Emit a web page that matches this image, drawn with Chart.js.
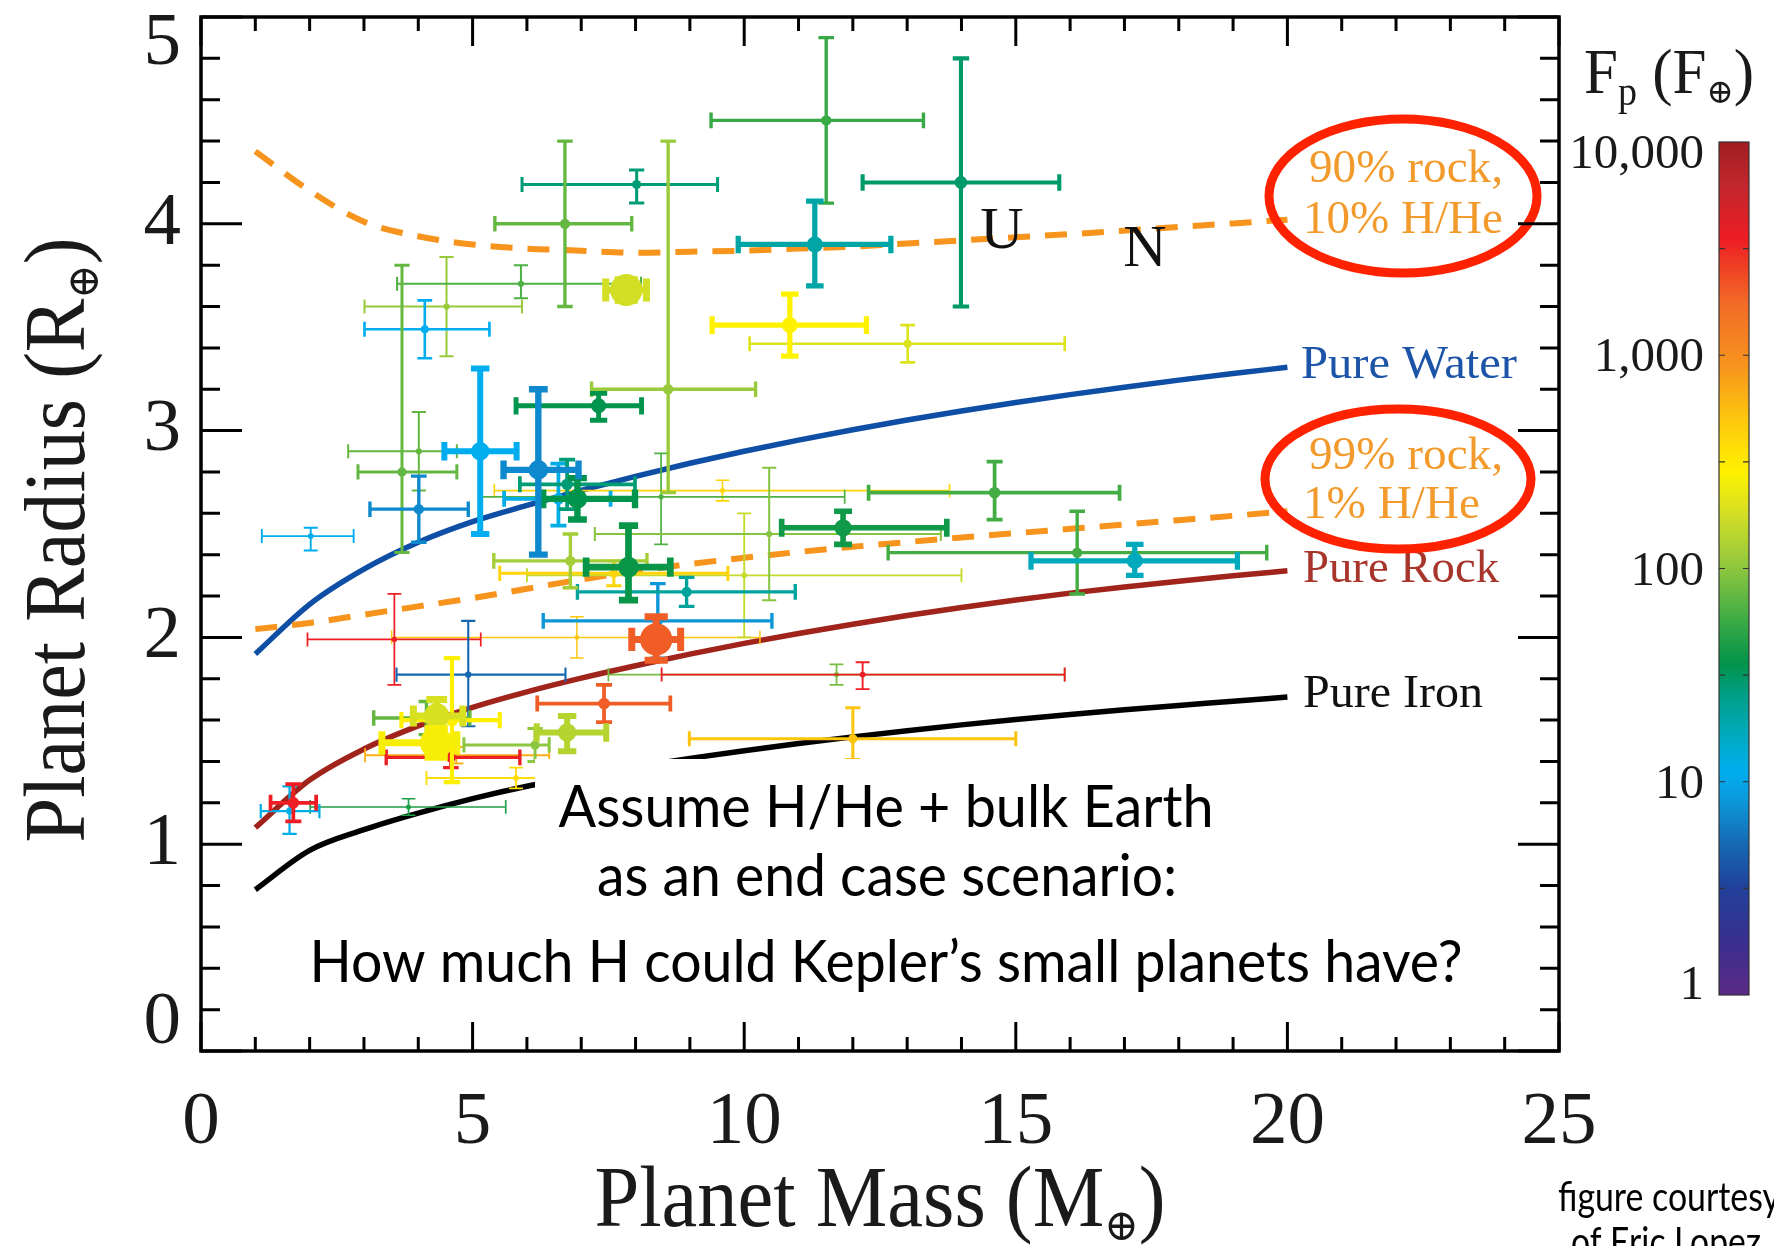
<!DOCTYPE html>
<html>
<head>
<meta charset="utf-8">
<title>Planet Mass vs Radius</title>
<script src="https://cdn.jsdelivr.net/npm/chart.js@4.4.1/dist/chart.umd.min.js"></script>
<style>
  html, body { margin: 0; padding: 0; background: #ffffff; overflow: hidden; }
  #wrap { width: 1774px; height: 1246px; position: relative; }
  canvas { display: block; }
</style>
</head>
<body>
<div id="wrap"><canvas id="chart" width="1774" height="1246"></canvas></div>
<script>
// ---------------- Planets: mass (M_earth), radius (R_earth), 1-sigma bounds ----------------
const planetMass   = [8.02, 6.70, 7.83, 5.89, 3.70, 4.52, 4.12, 8.60, 7.32, 5.14, 4.01, 6.21, 6.74, 6.58, 6.93, 2.02, 4.01, 8.47, 9.60, 14.61, 11.82, 10.46, 10.00, 11.51, 13.99, 11.30, 10.84, 13.01, 6.80, 7.87, 7.60, 8.94, 8.41, 8.38, 6.92, 3.56, 4.92, 12.18, 11.70, 7.42, 4.34, 4.15, 4.62, 4.33, 4.70, 4.60, 6.15, 6.74, 5.80, 1.70, 1.63, 3.82, 12.00, 17.19, 16.13];
const massLow      = [5.91, 5.41, 7.45, 3.61, 2.89, 3.01, 3.01, 7.19, 5.80, 4.48, 2.71, 5.57, 5.87, 5.58, 6.30, 1.12, 3.11, 5.15, 5.40, 12.29, 10.69, 7.25, 6.00, 9.39, 12.18, 9.89, 9.41, 10.10, 5.39, 7.09, 5.50, 6.93, 6.30, 7.93, 3.51, 1.96, 3.60, 8.48, 7.50, 6.19, 3.91, 3.18, 3.69, 3.33, 3.02, 3.41, 4.84, 6.18, 4.15, 1.28, 1.10, 2.01, 8.99, 15.28, 12.65];
const massHigh     = [9.51, 7.93, 8.20, 8.10, 4.71, 5.91, 5.31, 10.21, 8.11, 5.81, 4.71, 6.95, 7.99, 7.54, 7.99, 2.81, 4.92, 11.85, 13.78, 16.91, 13.73, 13.62, 14.00, 13.30, 15.80, 12.70, 12.25, 15.90, 8.21, 8.64, 9.70, 10.94, 10.51, 8.83, 10.29, 5.15, 6.71, 15.90, 15.90, 8.64, 4.82, 4.95, 5.50, 4.71, 6.41, 5.87, 6.41, 7.46, 7.45, 2.12, 2.18, 5.61, 15.00, 19.08, 19.62];
const planetRadius = [4.19, 4.00, 3.68, 3.71, 2.80, 3.60, 3.49, 3.20, 3.12, 2.90, 2.90, 2.81, 2.74, 2.67, 2.67, 2.49, 2.62, 2.68, 2.71, 2.70, 2.53, 2.50, 2.30, 4.50, 4.20, 3.90, 3.51, 3.42, 2.37, 2.34, 2.31, 2.22, 2.08, 1.99, 2.00, 1.99, 1.82, 1.82, 1.82, 1.68, 1.62, 1.61, 1.60, 1.49, 1.43, 1.42, 1.48, 1.54, 1.32, 1.20, 1.16, 1.18, 1.51, 2.37, 2.41];
const radiusLow    = [4.10, 3.60, 3.63, 3.64, 2.41, 3.36, 3.35, 2.70, 3.05, 2.50, 2.71, 2.40, 2.62, 2.54, 2.57, 2.42, 2.46, 2.45, 2.66, 2.57, 2.45, 2.18, 2.00, 4.10, 3.60, 3.70, 3.36, 3.33, 2.24, 2.18, 2.25, 2.15, 1.90, 1.89, 1.90, 1.77, 1.57, 1.75, 1.77, 1.59, 1.54, 1.53, 1.30, 1.42, 1.39, 1.37, 1.40, 1.45, 1.27, 1.11, 1.05, 1.14, 1.41, 2.30, 2.21];
const radiusHigh   = [4.26, 4.40, 3.73, 3.80, 3.80, 3.84, 3.63, 4.40, 3.18, 3.30, 3.09, 3.20, 2.86, 2.84, 2.77, 2.53, 2.78, 2.89, 2.76, 2.85, 2.61, 2.82, 2.60, 4.90, 4.80, 4.11, 3.66, 3.51, 2.50, 2.54, 2.37, 2.29, 2.26, 2.10, 2.10, 2.21, 2.08, 1.88, 1.87, 1.77, 1.70, 1.69, 1.90, 1.56, 1.47, 1.47, 1.56, 1.62, 1.37, 1.29, 1.28, 1.22, 1.66, 2.45, 2.61];
// Incident flux F_p in units of Earth's insolation
const incidentFlux = [28, 75, 180, 65, 75, 110, 11, 110, 35, 11, 75, 7, 28, 12, 35, 11, 7, 65, 420, 60, 40, 95, 160, 55, 30, 20, 280, 200, 120, 38, 420, 22, 8, 2000, 500, 3500, 5, 3500, 85, 2000, 190, 75, 290, 260, 650, 3500, 100, 140, 380, 3500, 12, 45, 520, 17, 60];
// Significance of the mass measurement (sets symbol weight)
const massSignificance = [4.0, 4.5, 14, 2.7, 4.0, 2.7, 3.5, 4.5, 6.5, 8.0, 2.7, 8.5, 5.0, 5.0, 8.5, 2.5, 4.5, 2.3, 2.2, 5.0, 7.5, 2.7, 2.5, 4.5, 5.5, 7.0, 7.0, 3.5, 4.5, 9.0, 4.0, 4.5, 4.5, 14, 2.0, 2.3, 2.8, 2.5, 2.3, 5.0, 11, 4.5, 5.5, 14, 2.5, 4.5, 4.0, 8.0, 2.5, 5.0, 3.0, 2.2, 4.0, 7.0, 4.5];

// ---------------- Composition models: radius vs mass ----------------
const modelMass  = [1, 2, 3, 4, 5, 6, 7, 8, 9, 10, 11, 12, 13, 14, 15, 16, 17, 18, 19, 20];
const rRock90HHe = [4.35, 4.16, 4.01, 3.94, 3.90, 3.88, 3.87, 3.86, 3.865, 3.87, 3.88, 3.89, 3.905, 3.92, 3.935, 3.95, 3.967, 3.985, 4.002, 4.02];
const rRock99HHe = [2.04, 2.07, 2.11, 2.15, 2.19, 2.235, 2.28, 2.32, 2.355, 2.385, 2.413, 2.438, 2.461, 2.483, 2.504, 2.525, 2.546, 2.567, 2.588, 2.61];
const rPureWater = [1.920, 2.160, 2.330, 2.460, 2.560, 2.638, 2.711, 2.779, 2.842, 2.900, 2.954, 3.004, 3.051, 3.095, 3.136, 3.174, 3.210, 3.244, 3.276, 3.306];
const rPureRock  = [1.080, 1.310, 1.460, 1.572, 1.662, 1.737, 1.803, 1.863, 1.919, 1.971, 2.019, 2.064, 2.106, 2.145, 2.181, 2.214, 2.244, 2.272, 2.298, 2.322];
const rPureIron  = [0.780, 0.970, 1.070, 1.150, 1.220, 1.280, 1.330, 1.375, 1.415, 1.452, 1.487, 1.519, 1.549, 1.577, 1.603, 1.627, 1.650, 1.671, 1.691, 1.712];

// ---------------- Axis / colour bar ticks ----------------
const massTicks   = [0, 5, 10, 15, 20, 25];
const radiusTicks = [0, 1, 2, 3, 4, 5];
const fluxTicks      = [1, 10, 100, 1000, 10000];
const fluxTickLabels = ['1', '10', '100', '1,000', '10,000'];

// ---------------- Styling ----------------
const SERIF = "'Liberation Serif', 'DejaVu Serif', serif";
const SANS  = "Lato, 'Open Sans', 'DejaVu Sans', sans-serif";
const INK   = '#1a1a1a';

// Rainbow colour map on log10(flux), 0..4
const fluxStops = [
  [0.00, '#5b2a86'], [0.25, '#3a2f8f'], [0.50, '#21409a'], [0.70, '#1667b2'],
  [0.90, '#0d96d8'], [1.05, '#00aeef'], [1.25, '#00a9b5'], [1.40, '#00a08a'],
  [1.55, '#00934a'], [1.75, '#3aaa45'], [2.00, '#8dc63f'], [2.25, '#d2de26'],
  [2.45, '#fff200'], [2.70, '#fdc70e'], [2.95, '#f7941d'], [3.25, '#f26a27'],
  [3.55, '#ed1c24'], [3.80, '#c1272d'], [4.00, '#a01d21']
];
function hexToRgb(h) {
  return [parseInt(h.slice(1, 3), 16), parseInt(h.slice(3, 5), 16), parseInt(h.slice(5, 7), 16)];
}
function fluxColor(f) {
  const l = Math.max(0, Math.min(4, Math.log10(f)));
  for (let i = 1; i < fluxStops.length; i++) {
    if (l <= fluxStops[i][0]) {
      const [l0, c0] = fluxStops[i - 1], [l1, c1] = fluxStops[i];
      const t = (l - l0) / (l1 - l0);
      const a = hexToRgb(c0), b = hexToRgb(c1);
      const c = a.map((v, k) => Math.round(v + (b[k] - v) * t));
      return `rgb(${c[0]},${c[1]},${c[2]})`;
    }
  }
  return fluxStops[fluxStops.length - 1][1];
}
const barWidth  = s => Math.min(7, 0.75 * s);
const dotRadius = s => Math.min(17, 1.15 * s);
const capHalf   = s => Math.min(12, 6 + 0.4 * s);

// ---------------- Datasets ----------------
const curve = (ys, color, dashed) => ({
  type: 'line',
  data: modelMass.map((m, i) => ({ x: m, y: ys[i] })),
  borderColor: color,
  borderWidth: dashed ? 6 : 5.5,
  borderDash: dashed ? [22, 15] : [],
  borderCapStyle: 'butt',
  pointRadius: 0,
  cubicInterpolationMode: 'monotone',
  fill: false,
  order: 100
});

const planetSets = planetMass.map((m, k) => ({
  type: 'scatter',
  data: [{ x: m, y: planetRadius[k] }],
  planetIndex: k,
  backgroundColor: fluxColor(incidentFlux[k]),
  borderWidth: 0,
  pointRadius: dotRadius(massSignificance[k]),
  pointHoverRadius: dotRadius(massSignificance[k]),
  order: -massSignificance[k]
}));

const datasets = [
  curve(rRock90HHe, '#f7941d', true),
  curve(rRock99HHe, '#f7941d', true),
  curve(rPureWater, '#0e4ea5', false),
  curve(rPureRock,  '#a0241b', false),
  curve(rPureIron,  '#000000', false),
  ...planetSets
];

// ---------------- Text helpers ----------------
function richText(ctx, parts, x, y, align, fitWidth, color) {
  let total = 0;
  const widths = parts.map(p => {
    ctx.font = `${p.weight || ''} ${p.size}px ${p.family || SERIF}`;
    const w = ctx.measureText(p.text).width;
    total += w;
    return w;
  });
  const sx = fitWidth ? fitWidth / total : 1;
  ctx.save();
  ctx.translate(x, y);
  ctx.scale(sx, 1);
  ctx.fillStyle = color || INK;
  ctx.textBaseline = 'alphabetic';
  ctx.textAlign = 'left';
  let cx = align === 'center' ? -total / 2 : align === 'right' ? -total : 0;
  parts.forEach((p, i) => {
    ctx.font = `${p.weight || ''} ${p.size}px ${p.family || SERIF}`;
    ctx.fillText(p.text, cx, p.dy || 0);
    cx += widths[i];
  });
  ctx.restore();
}
function plainText(ctx, text, x, y, size, family, color, align, fitWidth) {
  richText(ctx, [{ text, size, family }], x, y, align, fitWidth, color);
}

// ---------------- Error bars, drawn just before each planet's symbol ----------------
const errorBarPlugin = {
  id: 'errorBars',
  beforeDatasetDraw(chart, args) {
    const ds = chart.data.datasets[args.index];
    if (ds.planetIndex === undefined) return;
    const k = ds.planetIndex;
    const xs = chart.scales.x, ys = chart.scales.y;
    const pt = args.meta.data[0];
    const px = pt.x, py = pt.y;
    const x0 = xs.getPixelForValue(massLow[k]), x1 = xs.getPixelForValue(massHigh[k]);
    const y0 = ys.getPixelForValue(radiusLow[k]), y1 = ys.getPixelForValue(radiusHigh[k]);
    const s = massSignificance[k];
    const c = capHalf(s);
    const ctx = chart.ctx;
    ctx.save();
    ctx.strokeStyle = ds.backgroundColor;
    ctx.lineWidth = barWidth(s);
    ctx.lineCap = 'butt';
    ctx.beginPath();
    ctx.moveTo(x0, py); ctx.lineTo(x1, py);
    ctx.moveTo(px, y0); ctx.lineTo(px, y1);
    ctx.moveTo(x0, py - c); ctx.lineTo(x0, py + c);
    ctx.moveTo(x1, py - c); ctx.lineTo(x1, py + c);
    ctx.moveTo(px - c, y0); ctx.lineTo(px + c, y0);
    ctx.moveTo(px - c, y1); ctx.lineTo(px + c, y1);
    ctx.stroke();
    ctx.restore();
  }
};

// ---------------- Frame, annotations, colour bar, titles ----------------
const decorPlugin = {
  id: 'decor',
  beforeDraw(chart) {
    const ctx = chart.ctx;
    ctx.save();
    ctx.fillStyle = '#ffffff';
    ctx.fillRect(0, 0, chart.width, chart.height);
    ctx.restore();
  },
  afterDatasetsDraw(chart) {
    const ctx = chart.ctx;
    const xs = chart.scales.x, ys = chart.scales.y;
    const { left, right, top, bottom } = chart.chartArea;

    // Model labels
    plainText(ctx, 'Pure Water', 1301, 378, 46, SERIF, '#1c54a8', 'left', 216);
    plainText(ctx, 'Pure Rock', 1303, 582, 46, SERIF, '#a8352c', 'left', 196);
    plainText(ctx, 'Pure Iron', 1303, 707, 46, SERIF, '#111111', 'left', 180);
    plainText(ctx, 'U', 1002, 248, 60, SERIF, '#111111', 'center');
    plainText(ctx, 'N', 1145, 266, 60, SERIF, '#111111', 'center');

    // Annotated envelopes
    const orangeTxt = '#f39a2c';
    plainText(ctx, '90% rock,', 1309, 182, 47, SERIF, orangeTxt, 'left', 194);
    plainText(ctx, '10% H/He', 1303, 233, 47, SERIF, orangeTxt, 'left', 200);
    plainText(ctx, '99% rock,', 1309, 469, 47, SERIF, orangeTxt, 'left', 194);
    plainText(ctx, '1% H/He', 1303, 518, 47, SERIF, orangeTxt, 'left', 177);
    ctx.save();
    ctx.strokeStyle = '#ff2200';
    ctx.lineWidth = 9;
    ctx.beginPath();
    ctx.ellipse(1403, 196, 134, 77, 0, 0, Math.PI * 2);
    ctx.stroke();
    ctx.beginPath();
    ctx.ellipse(1398, 479, 133, 70, 0, 0, Math.PI * 2);
    ctx.stroke();
    ctx.restore();

    // Scenario text on a white panel
    ctx.save();
    ctx.fillStyle = '#ffffff';
    ctx.fillRect(535, 759, 700, 80);
    ctx.restore();
    plainText(ctx, 'Assume H/He + bulk Earth', 886, 827, 58, SANS, '#000000', 'center', 655);
    plainText(ctx, 'as an end case scenario:', 887, 896, 58, SANS, '#000000', 'center', 580);
    plainText(ctx, 'How much H could Kepler\u2019s small planets have?', 886, 982, 58, SANS, '#000000', 'center', 1153);

    // Plot frame with inward ticks on all sides
    ctx.save();
    ctx.strokeStyle = '#000000';
    ctx.lineCap = 'butt';
    ctx.lineWidth = 3;
    ctx.beginPath();
    for (let v = 0; v <= 25; v++) {
      const px = xs.getPixelForValue(v);
      const len = v % 5 === 0 ? 29 : 14;
      ctx.moveTo(px, bottom); ctx.lineTo(px, bottom - len);
      ctx.moveTo(px, top); ctx.lineTo(px, top + len);
    }
    for (let i = 0; i <= 25; i++) {
      const py = ys.getPixelForValue(i * 0.2);
      const len = i % 5 === 0 ? 41 : 19;
      ctx.moveTo(left, py); ctx.lineTo(left + len, py);
      ctx.moveTo(right, py); ctx.lineTo(right - len, py);
    }
    ctx.stroke();
    ctx.lineWidth = 3.5;
    ctx.strokeRect(left, top, right - left, bottom - top);
    ctx.restore();

    // Axis titles
    richText(ctx, [
      { text: 'Planet Mass (M', size: 86 },
      { text: '\u2295', size: 44, dy: 14 },
      { text: ')', size: 86 }
    ], 880, 1226, 'center', 571);
    ctx.save();
    ctx.translate(84, 540);
    ctx.rotate(-Math.PI / 2);
    richText(ctx, [
      { text: 'Planet Radius (R', size: 86 },
      { text: '\u2295', size: 44, dy: 14 },
      { text: ')', size: 86 }
    ], 0, 0, 'center', 605);
    ctx.restore();

    // Colour bar for incident flux (log scale)
    const cbL = 1719, cbR = 1749, cbTop = 142, cbBot = 995;
    const fluxPx = f => cbBot - (Math.log10(f) / 4) * (cbBot - cbTop);
    const grad = ctx.createLinearGradient(0, cbBot, 0, cbTop);
    fluxStops.forEach(([l, c]) => grad.addColorStop(l / 4, c));
    ctx.save();
    ctx.fillStyle = grad;
    ctx.fillRect(cbL, cbTop, cbR - cbL, cbBot - cbTop);
    ctx.strokeStyle = '#333333';
    ctx.lineWidth = 1.2;
    ctx.strokeRect(cbL, cbTop, cbR - cbL, cbBot - cbTop);
    ctx.beginPath();
    for (let l = 0.5; l < 4; l += 0.5) {
      const py = fluxPx(Math.pow(10, l));
      ctx.moveTo(cbL, py); ctx.lineTo(cbL + 6, py);
      ctx.moveTo(cbR, py); ctx.lineTo(cbR - 6, py);
    }
    ctx.stroke();
    ctx.restore();
    fluxTicks.forEach((f, i) => {
      let py = fluxPx(f);
      if (i === 0) py -= 12;
      if (i === fluxTicks.length - 1) py += 10;
      plainText(ctx, fluxTickLabels[i], 1704, py + 16, 49, SERIF, INK, 'right');
    });
    richText(ctx, [
      { text: 'F', size: 64 },
      { text: 'p', size: 40, dy: 12 },
      { text: ' (F', size: 64 },
      { text: '\u2295', size: 34, dy: 10 },
      { text: ')', size: 64 }
    ], 1584, 93, 'left', 170);

    // Credit
    plainText(ctx, 'figure courtesy', 1558, 1211, 40, SANS, '#000000', 'left', 222);
    plainText(ctx, 'of Eric Lopez', 1571, 1256, 40, SANS, '#000000', 'left', 190);
  }
};

// ---------------- Chart ----------------
const ctx = document.getElementById('chart').getContext('2d');
new Chart(ctx, {
  data: { datasets },
  options: {
    responsive: false,
    animation: false,
    devicePixelRatio: 1,
    events: [],
    layout: { padding: { left: 0, right: 215, top: 17, bottom: 0 } },
    plugins: { legend: { display: false }, tooltip: { enabled: false } },
    scales: {
      x: {
        type: 'linear', min: massTicks[0], max: massTicks[massTicks.length - 1],
        afterBuildTicks: s => { s.ticks = massTicks.map(v => ({ value: v })); },
        grid: { display: false, drawTicks: false },
        border: { display: false },
        ticks: {
          color: INK, padding: 44,
          font: { family: SERIF, size: 75, lineHeight: 0.75 },
          maxRotation: 0, autoSkip: false
        },
        afterFit: s => { s.height = 195; s.paddingLeft = 0; s.paddingRight = 0; }
      },
      y: {
        type: 'linear', min: radiusTicks[0], max: radiusTicks[radiusTicks.length - 1],
        afterBuildTicks: s => { s.ticks = radiusTicks.map(v => ({ value: v })); },
        grid: { display: false, drawTicks: false },
        border: { display: false },
        ticks: {
          color: INK, padding: 20,
          font: { family: SERIF, size: 75, lineHeight: 0.74 },
          autoSkip: false,
          callback: v => v === radiusTicks[radiusTicks.length - 1] ? ['', String(v)]
                        : v === radiusTicks[0] ? [String(v), ''] : String(v)
        },
        afterFit: s => { s.width = 201; s.paddingTop = 0; s.paddingBottom = 0; }
      }
    }
  },
  plugins: [errorBarPlugin, decorPlugin]
});
</script>
</body>
</html>
